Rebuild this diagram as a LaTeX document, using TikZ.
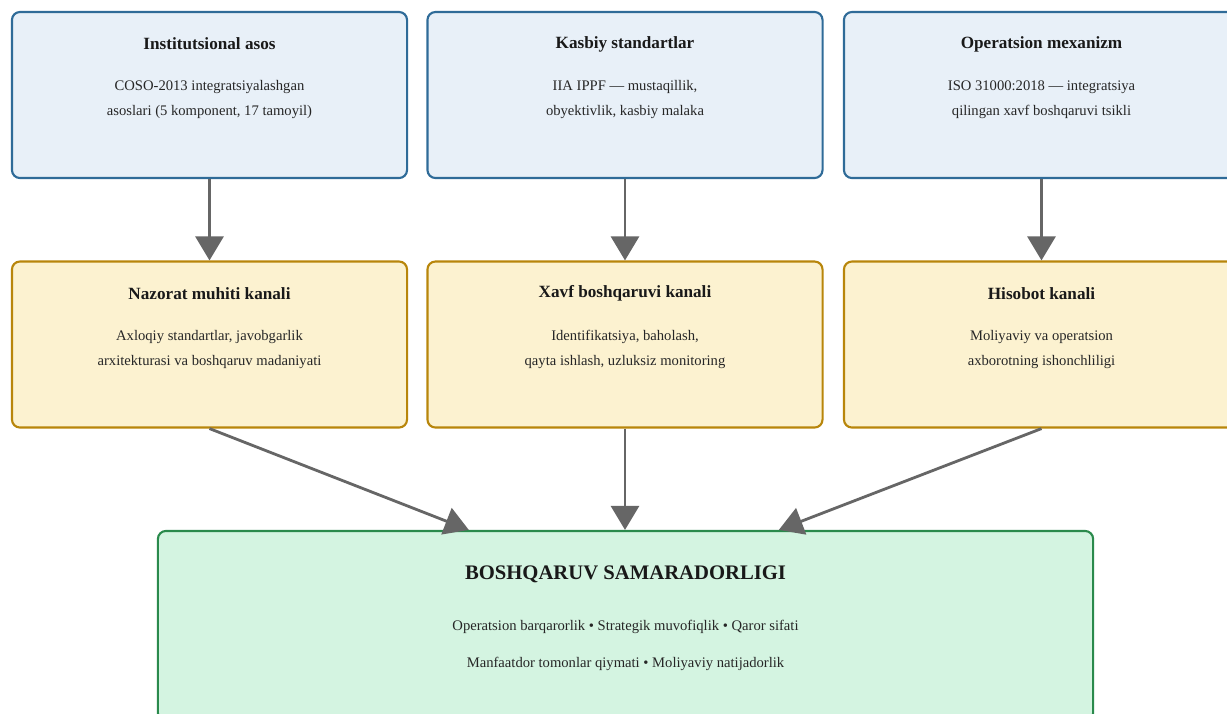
\documentclass[tikz,border=0pt]{standalone}
\usepackage{fontspec}
\setmainfont{Liberation Serif}
\usetikzlibrary{positioning,calc,arrows.meta}
\definecolor{srcfill}{HTML}{E8F0F8}
\definecolor{srcline}{HTML}{2F6B98}
\definecolor{chfill}{HTML}{FCF2D0}
\definecolor{chline}{HTML}{B8860B}
\definecolor{resfill}{HTML}{D4F4E1}
\definecolor{resline}{HTML}{2A8A4C}
\definecolor{arrgray}{HTML}{666666}
\tikzset{
  box/.style={draw, line width=1.5pt, rounded corners=0.2cm, minimum width=9.875cm, minimum height=4.15cm, inner sep=0pt},
  src/.style={box, fill=srcfill, draw=srcline},
  chan/.style={box, fill=chfill, draw=chline},
  res/.style={box, fill=resfill, draw=resline, minimum width=23.375cm, minimum height=4.75cm},
  ttl/.style={font=\bfseries\fontsize{12.2}{14}\selectfont, text=black!90, inner sep=0pt},
  txt/.style={font=\fontsize{10.4}{17.8}\selectfont, text=black!85, align=center, inner sep=0pt},
  link/.style={draw=arrgray, line width=2pt, -{Triangle[length=0.6cm, width=0.7cm]}}
}
\begin{document}
\begin{tikzpicture}[x=0.025cm, y=-0.025cm]
    \useasboundingbox (0,0) rectangle (1227,713);
    % top row
    \node[src] (inst) at (209.5,95) {};
    \node[src] (kasb) at (625,95) {};
    \node[src] (oper) at (1041.5,95) {};
    \node[ttl] at ($(inst.north)+(0,33)$) {Institutsional asos};
    \node[txt] at ($(inst.north)+(0,89)$) {COSO-2013 integratsiyalashgan\\asoslari (5 komponent, 17 tamoyil)};
    \node[ttl] at ($(kasb.north)+(0,33)$) {Kasbiy standartlar};
    \node[txt] at ($(kasb.north)+(0,89)$) {IIA IPPF — mustaqillik,\\obyektivlik, kasbiy malaka};
    \node[ttl] at ($(oper.north)+(0,33)$) {Operatsion mexanizm};
    \node[txt] at ($(oper.north)+(0,89)$) {ISO 31000:2018 — integratsiya\\qilingan xavf boshqaruvi tsikli};
    % channels
    \node[chan] (nazorat) at (209.5,344.5) {};
    \node[chan] (xavf) at (625,344.5) {};
    \node[chan] (hisobot) at (1041.5,344.5) {};
    \node[ttl] at ($(nazorat.north)+(0,33)$) {Nazorat muhiti kanali};
    \node[txt] at ($(nazorat.north)+(0,89)$) {Axloqiy standartlar, javobgarlik\\arxitekturasi va boshqaruv madaniyati};
    \node[ttl] at ($(xavf.north)+(0,33)$) {Xavf boshqaruvi kanali};
    \node[txt] at ($(xavf.north)+(0,89)$) {Identifikatsiya, baholash,\\qayta ishlash, uzluksiz monitoring};
    \node[ttl] at ($(hisobot.north)+(0,33)$) {Hisobot kanali};
    \node[txt] at ($(hisobot.north)+(0,89)$) {Moliyaviy va operatsion\\axborotning ishonchliligi};
    % result
    \node[res] (samara) at (625.5,626) {};
    \node[ttl, font=\bfseries\fontsize{14.7}{17}\selectfont] at ($(samara.north)+(0,44)$) {BOSHQARUV SAMARADORLIGI};
    \node[txt, font=\fontsize{10.4}{26.3}\selectfont] at ($(samara.north)+(0,115)$) {Operatsion barqarorlik • Strategik muvofiqlik • Qaror sifati\\Manfaatdor tomonlar qiymati • Moliyaviy natijadorlik};
    % arrows
    \draw[link] (inst) -- (nazorat);
    \draw[link] (kasb) -- (xavf);
    \draw[link] (oper) -- (hisobot);
    \draw[link] (nazorat.south) -- ($(samara.north west)+(312,0)$);
    \draw[link] (xavf) -- (samara.north -| xavf);
    \draw[link] (hisobot.south) -- ($(samara.north west)+(622,0)$);
\end{tikzpicture}
\end{document}
